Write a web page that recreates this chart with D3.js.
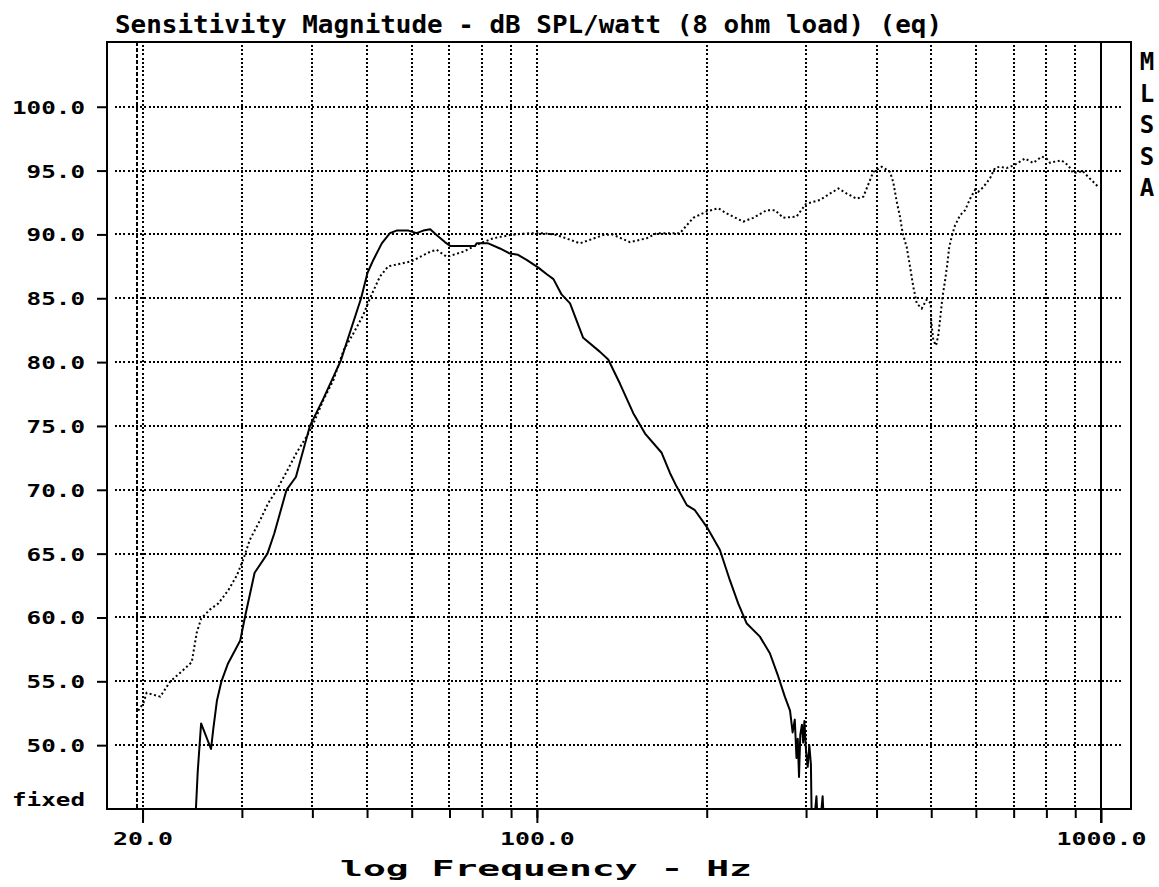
<!DOCTYPE html>
<html>
<head>
<meta charset="utf-8">
<script src="https://cdn.jsdelivr.net/npm/d3@7"></script>
<style>
  body { margin: 0; background: #fff; }
  text { font-family: 'DejaVu Sans Mono', monospace; font-weight: bold; fill: #000; }
</style>
</head>
<body>
<div id="svg"></div>
<script>
var w = 1159;
var h = 887;

// plot frame (pixels)
var box = { left: 107, right: 1131, top: 42, bottom: 809 }

// axis limits
var freqLimits = [17.3, 1130];
var splLimits = [45, 105.07];

// tick / grid values
var yTicks = [45, 50, 55, 60, 65, 70, 75, 80, 85, 90, 95, 100];
var gridFreqs = [20, 30, 40, 50, 60, 70, 80, 90, 100, 200, 300, 400, 500, 600, 700, 800, 900];
var labelFreqs = [20, 100, 1000];
var cursorFreq = [19.53];
var limitFreq = [1000];

// solid trace
var solidFreq = [24.8, 24.9, 25.05, 25.4, 26.45, 26.7, 27.1, 27.6, 28.35, 29.8,
  30.4, 31.6, 33.3, 34.25, 36.0, 37.4, 39.6, 41.8, 44.9, 48.8,
  50.1, 51.3, 53.1, 54.9, 56.4, 59.2, 61.2, 62.9, 64.7, 66.4,
  68.7, 70.2, 77.7, 78.2, 82.0, 86.0, 89.6, 92.6, 95.9, 100.6,
  104.0, 107.0, 110.6, 114.5, 120.8, 129.4, 133.8, 140.4, 148.2, 155.5,
  166.4, 172.2, 176.9, 184.4, 190.6, 200, 211, 219.9, 227.4, 235.3,
  248.5, 258.8, 267.7, 275.1, 281, 284, 286.5, 288.5, 290, 291.5,
  293, 295, 296.5, 298, 300, 302, 304, 306, 307, 310,
  313, 314.5, 318, 321, 322.5];
var solidSpl = [44, 45.5, 47.9, 51.7, 49.7, 51.3, 53.5, 55.0, 56.4, 58.2,
  60.1, 63.5, 65.0, 66.6, 70.0, 71.0, 75.0, 77.1, 80.1, 85.0,
  87.0, 88.0, 89.3, 90.1, 90.3, 90.3, 90.1, 90.3, 90.4, 89.95,
  89.4, 89.1, 89.1, 89.3, 89.3, 88.9, 88.5, 88.4, 88.0, 87.4,
  86.9, 86.5, 85.3, 84.6, 81.9, 80.8, 80.2, 78.3, 76.0, 74.4,
  72.9, 71.3, 70.25, 68.8, 68.4, 67.1, 65.3, 62.9, 61.1, 59.55,
  58.5, 57.2, 55.4, 53.8, 52.7, 51.0, 52.0, 49.0, 50.5, 47.5,
  50.8, 51.6, 50.2, 51.9, 49.5, 48.3, 50.0, 48.5, 44, 44,
  46.0, 44, 44, 46.0, 44];

// dotted trace
var dottedFreq = [19.65, 20.07, 20.34, 21.5, 22.4, 23.5, 24.45, 24.6, 24.95, 25.4,
  26.3, 27.25, 28.4, 29.4, 30.2, 31.0, 32.3, 33.4, 34.6, 36.0,
  37.5, 39.1, 40.1, 41.8, 43.6, 45.4, 47.3, 49.25, 50.6, 52.7,
  54.5, 57.2, 60.0, 64.7, 66.4, 69.2, 74.1, 79.3, 83.7, 89.6,
  97.2, 102.6, 108.6, 119.2, 131.1, 136, 146.2, 156.6, 163.1, 179.3,
  189.3, 200, 209.6, 216.9, 232.1, 241.8, 255.4, 264.2, 273.3, 288.6,
  300, 317.5, 328.1, 342.3, 354.3, 368.6, 379, 394.8, 408.6, 422.5,
  428.2, 434.2, 440.1, 445, 452.4, 458.5, 464.7, 471.3, 481.0, 491.0,
  499, 500, 504.3, 509.9, 514.6, 518, 523.5, 528.7, 533.7, 538.1,
  543.4, 551, 562.5, 574.2, 586.0, 598.1, 606, 618.2, 635.7, 648.5,
  661.7, 680.2, 700, 718.1, 733, 758.1, 785.2, 800, 811.9, 828.4,
  851.3, 875, 892.3, 917.4, 926, 949.0, 969.4, 989.9];
var dottedSpl = [52.7, 53.3, 54.1, 53.8, 55.0, 55.8, 56.5, 57.2, 58.8, 59.9,
  60.6, 61.1, 62.15, 63.3, 64.6, 66.1, 67.6, 68.95, 70.0, 71.4,
  72.9, 74.2, 75.1, 77.0, 78.6, 80.9, 82.25, 83.7, 85.0, 86.7,
  87.5, 87.7, 87.9, 88.65, 88.8, 88.25, 88.65, 89.3, 89.7, 89.95,
  90.1, 90.1, 89.95, 89.3, 89.95, 90.0, 89.4, 89.7, 90.1, 90.1,
  91.3, 91.8, 92.05, 91.65, 91.0, 91.3, 91.9, 91.9, 91.3, 91.4,
  92.4, 92.7, 93.1, 93.6, 93.2, 92.8, 92.95, 94.9, 95.3, 94.9,
  94.1, 92.6, 91.4, 90.1, 89.0, 87.5, 85.9, 84.6, 84.2, 84.9,
  84.6, 83.2, 81.7, 81.3, 82.1, 83.2, 85.1, 86.3, 87.6, 89.0,
  89.8, 90.7, 91.5, 91.9, 92.8, 93.5, 93.35, 93.7, 94.4, 95.2,
  95.3, 95.2, 95.4, 95.7, 95.95, 95.6, 96.1, 95.95, 95.6, 95.7,
  95.8, 95.4, 94.8, 94.9, 95.0, 94.5, 94.1, 93.7];

const svg = d3.select('#svg')
              .append('svg')
              .attr('width', w)
              .attr('height', h)

var x = d3.scaleLog()
          .domain(freqLimits)
          .range([box.left, box.right])

var y = d3.scaleLinear()
          .domain(splLimits)
          .range([box.bottom, box.top])

// stretch the monospace text to the wide DOS look
function stretch(sel, perChar) {
  sel.attr('textLength', function () { return this.textContent.length * perChar })
     .attr('lengthAdjust', 'spacingAndGlyphs')
}

// grid (dotted, pixel aligned)
svg.append('g')
    .selectAll('line')
    .data(yTicks.filter(d => d > 45))
    .enter()
        .append('line')
        .attr('x1', 115)
        .attr('x2', 1121)
        .attr('y1', d => Math.round(y(d)))
        .attr('y2', d => Math.round(y(d)))
        .attr('stroke', '#000')
        .attr('stroke-width', 2)
        .attr('stroke-dasharray', '2,2.2')
        .attr('shape-rendering', 'crispEdges')

svg.append('g')
    .selectAll('line')
    .data(gridFreqs)
    .enter()
        .append('line')
        .attr('x1', d => Math.round(x(d)))
        .attr('x2', d => Math.round(x(d)))
        .attr('y1', box.top + 3)
        .attr('y2', box.bottom - 2)
        .attr('stroke', '#000')
        .attr('stroke-width', 2)
        .attr('stroke-dasharray', '2,2.2')
        .attr('shape-rendering', 'crispEdges')

// cursor and limit markers
svg.selectAll('.cursor')
    .data(cursorFreq)
    .enter()
        .append('line')
        .attr('class', 'cursor')
        .attr('x1', d => Math.round(x(d)))
        .attr('x2', d => Math.round(x(d)))
        .attr('y1', box.top)
        .attr('y2', box.bottom)
        .attr('stroke', '#000')
        .attr('stroke-width', 2)
        .attr('stroke-dasharray', '4,2')
        .attr('shape-rendering', 'crispEdges')

svg.selectAll('.limit')
    .data(limitFreq)
    .enter()
        .append('line')
        .attr('class', 'limit')
        .attr('x1', d => Math.round(x(d)))
        .attr('x2', d => Math.round(x(d)))
        .attr('y1', box.top)
        .attr('y2', box.bottom + 14)
        .attr('stroke', '#000')
        .attr('stroke-width', 2)
        .attr('shape-rendering', 'crispEdges')

// traces
svg.append('clipPath')
    .attr('id', 'plot-clip')
    .append('rect')
    .attr('x', box.left)
    .attr('y', box.top)
    .attr('width', box.right - box.left)
    .attr('height', box.bottom - box.top)

var line = d3.line()
             .x(d => x(d[0]))
             .y(d => y(d[1]))

svg.append('path')
    .datum(dottedFreq.map((f, i) => [f, dottedSpl[i]]))
    .attr('d', line)
    .attr('clip-path', 'url(#plot-clip)')
    .attr('fill', 'none')
    .attr('stroke', '#000')
    .attr('stroke-width', 2)
    .attr('stroke-dasharray', '2,2.6')

svg.append('path')
    .datum(solidFreq.map((f, i) => [f, solidSpl[i]]))
    .attr('d', line)
    .attr('clip-path', 'url(#plot-clip)')
    .attr('fill', 'none')
    .attr('stroke', '#000')
    .attr('stroke-width', 2)
    .attr('stroke-linejoin', 'round')

// frame
svg.append('rect')
    .attr('x', box.left)
    .attr('y', box.top)
    .attr('width', box.right - box.left)
    .attr('height', box.bottom - box.top)
    .attr('fill', 'none')
    .attr('stroke', '#000')
    .attr('stroke-width', 2)
    .attr('shape-rendering', 'crispEdges')

// y axis
var yAxis = svg.append('g')
    .attr('transform', `translate(${box.left}, 0)`)
    .call(d3.axisLeft(y)
            .tickValues(yTicks)
            .tickSize(10)
            .tickPadding(12)
            .tickFormat(d => d == 45 ? 'fixed' : d3.format('.1f')(d)))
yAxis.select('.domain').remove()
yAxis.selectAll('line').attr('stroke-width', 2)
yAxis.selectAll('.tick').filter(d => d == 45).select('line').remove()
yAxis.selectAll('text')
    .attr('font-size', 17)
    .attr('dy', d => d == 45 ? '-0.18em' : '0.38em')
    .call(stretch, 14.6)

// x axis: minor ticks then labelled ticks
var xMinor = svg.append('g')
    .attr('transform', `translate(0, ${box.bottom})`)
    .call(d3.axisBottom(x).tickValues(gridFreqs).tickSize(9).tickFormat(''))
xMinor.select('.domain').remove()
xMinor.selectAll('line').attr('stroke-width', 2)

var xMajor = svg.append('g')
    .attr('transform', `translate(0, ${box.bottom})`)
    .call(d3.axisBottom(x).tickValues(labelFreqs).tickSize(14).tickFormat(d3.format('.1f')))
xMajor.select('.domain').remove()
xMajor.selectAll('line').attr('stroke-width', 2)
xMajor.selectAll('text')
    .attr('font-size', 18)
    .attr('y', 36)
    .attr('dy', 0)
    .call(stretch, 15)

// titles
svg.append('text')
    .attr('x', 115)
    .attr('y', 33)
    .attr('font-size', 25)
    .text('Sensitivity Magnitude - dB SPL/watt (8 ohm load) (eq)')
    .attr('textLength', 827)
    .attr('lengthAdjust', 'spacingAndGlyphs')

svg.append('text')
    .attr('x', 340)
    .attr('y', 876)
    .attr('font-size', 21)
    .text('log Frequency - Hz')
    .attr('textLength', 412)
    .attr('lengthAdjust', 'spacingAndGlyphs')

svg.append('g')
    .selectAll('text')
    .data('MLSSA'.split(''))
    .enter()
        .append('text')
        .attr('x', 1147)
        .attr('y', (d, i) => 70 + i * 31.5)
        .attr('text-anchor', 'middle')
        .attr('font-size', 24)
        .text(d => d)
</script>
</body>
</html>
